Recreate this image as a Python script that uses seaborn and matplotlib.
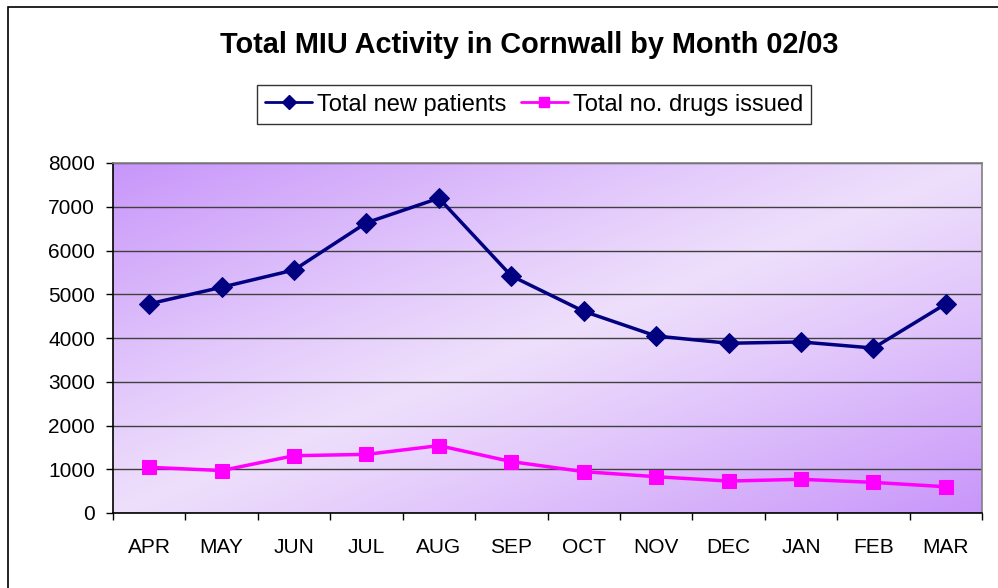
import numpy as np
import pandas as pd
import matplotlib
matplotlib.use("Agg")
import matplotlib.pyplot as plt
import seaborn as sns
from matplotlib.patches import Rectangle
from matplotlib.lines import Line2D

months = ["APR", "MAY", "JUN", "JUL", "AUG", "SEP", "OCT", "NOV", "DEC", "JAN", "FEB", "MAR"]
new_patients = [4780, 5160, 5555, 6635, 7195, 5420, 4610, 4045, 3880, 3910, 3770, 4780]
drugs_issued = [1045, 970, 1310, 1340, 1540, 1175, 945, 830, 730, 770, 700, 600]
series_names = ["Total new patients", "Total no. drugs issued"]
yticks = [0, 1000, 2000, 3000, 4000, 5000, 6000, 7000, 8000]

sns.set_style("white")
plt.rcParams["font.family"] = ["Liberation Sans", "DejaVu Sans"]
plt.rcParams["text.color"] = "black"
plt.rcParams["xtick.color"] = "black"
plt.rcParams["ytick.color"] = "black"

W, H = 998, 588
fig = plt.figure(figsize=(W / 100, H / 100), dpi=100)
fig.patch.set_facecolor("white")

# outer chart border
fig.patches.append(Rectangle((8 / W, -0.05), 1.2, 1 - 7 / H + 0.05, transform=fig.transFigure,
                             fill=False, edgecolor="black", linewidth=1.2, zorder=0))

left, right, top, bottom = 113, 982, 163, 513
ax = fig.add_axes([left / W, 1 - bottom / H, (right - left) / W, (bottom - top) / H])

# gradient background
n = 200
xs = np.linspace(0, 1, n)
ys = np.linspace(1, 0, n)
X, Y = np.meshgrid(xs, ys)
t = np.abs(X - Y) ** 1.1
dark = np.array([200, 150, 250]) / 255
light = np.array([238, 223, 252]) / 255
img = light[None, None, :] + (dark - light)[None, None, :] * t[:, :, None]
ax.imshow(img, extent=[0, 1, 0, 1], transform=ax.transAxes, aspect="auto", zorder=-2)

pos = np.arange(len(months))
df = pd.DataFrame({
    "pos": np.concatenate([pos, pos]),
    "value": new_patients + drugs_issued,
    "series": [series_names[0]] * len(months) + [series_names[1]] * len(months),
})

sns.lineplot(data=df[df.series == series_names[0]], x="pos", y="value", ax=ax,
             color="#000080", linewidth=2.5, marker="D", markersize=10,
             markeredgecolor="#000080", legend=False, zorder=3)
sns.lineplot(data=df[df.series == series_names[1]], x="pos", y="value", ax=ax,
             color="#FF00FF", linewidth=2.5, marker="s", markersize=10,
             markeredgecolor="#FF00FF", legend=False, zorder=3)

ax.set_xlim(-0.5, len(months) - 0.5)
ax.set_ylim(0, 8000)
ax.set_yticks(yticks)
ax.set_yticklabels([str(v) for v in yticks], fontsize=15)
ax.yaxis.grid(True, color="#404040", linewidth=1.0)
ax.xaxis.grid(False)

ax.set_xticks(np.arange(-0.5, len(months), 1.0))
ax.set_xticklabels([])
ax.set_xticks(pos, minor=True)
ax.set_xticklabels(months, minor=True, fontsize=15)
ax.tick_params(axis="x", which="major", direction="out", length=5, width=1, color="black", bottom=True)
ax.tick_params(axis="x", which="minor", length=0, pad=18)
ax.tick_params(axis="y", direction="out", length=5, width=1, color="black", left=True, pad=8)
ax.set_xlabel("")
ax.set_ylabel("")

for s in ["left", "bottom"]:
    ax.spines[s].set_color("black")
    ax.spines[s].set_linewidth(1.2)
for s in ["top", "right"]:
    ax.spines[s].set_color("#808080")
    ax.spines[s].set_linewidth(1.2)
    ax.spines[s].set_visible(True)

fig.text(529 / W, 1 - 45 / H, "Total MIU Activity in Cornwall by Month 02/03",
         ha="center", va="center", fontsize=20.8, fontweight="bold", color="black")

handles = [
    Line2D([], [], color="#000080", linewidth=2.0, marker="D", markersize=7),
    Line2D([], [], color="#FF00FF", linewidth=2.0, marker="s", markersize=7),
]
leg = fig.legend(handles, series_names, loc="center", bbox_to_anchor=(534 / W, 1 - 104.5 / H),
                 ncol=2, fontsize=17, frameon=True, fancybox=False, edgecolor="black",
                 handlelength=2.0, handletextpad=0.2, columnspacing=0.6, borderpad=0.35,
                 borderaxespad=0)
leg.get_frame().set_linewidth(1.0)
for txt in leg.get_texts():
    txt.set_color("black")

fig.savefig("out.png", dpi=100, facecolor="white")
